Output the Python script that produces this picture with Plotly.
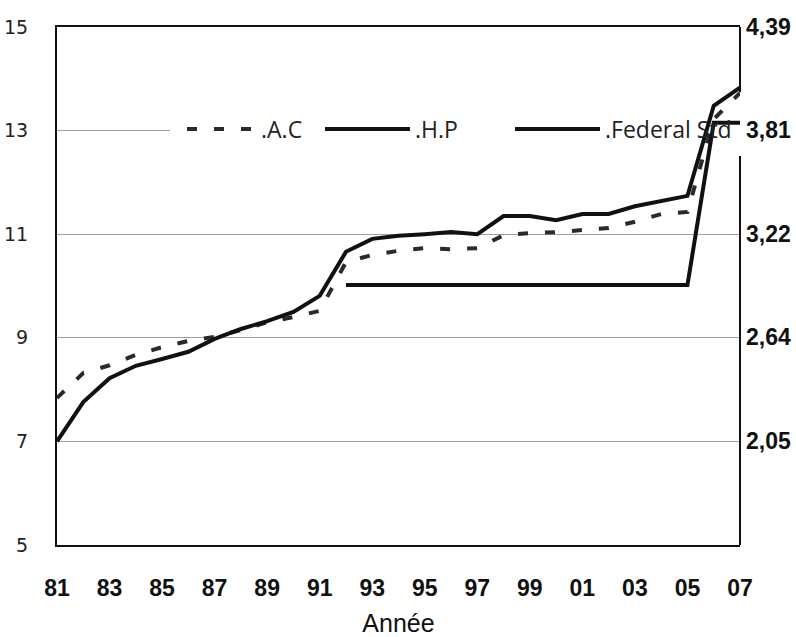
import plotly.graph_objects as go

# ---- data ----
years = [1981, 1982, 1983, 1984, 1985, 1986, 1987, 1988, 1989, 1990, 1991, 1992, 1993, 1994,
         1995, 1996, 1997, 1998, 1999, 2000, 2001, 2002, 2003, 2004, 2005, 2006, 2007]
hp = [7.00, 7.76, 8.22, 8.46, 8.59, 8.73, 8.98, 9.17, 9.32, 9.50, 9.81, 10.66, 10.91, 10.97,
      11.00, 11.04, 11.00, 11.35, 11.35, 11.27, 11.39, 11.39, 11.54, 11.64, 11.74, 13.48, 13.83]
ac = [7.84, 8.32, 8.47, 8.67, 8.82, 8.94, 9.02, 9.15, 9.30, 9.40, 9.52, 10.46, 10.60, 10.68,
      10.73, 10.71, 10.73, 10.98, 11.02, 11.04, 11.08, 11.12, 11.24, 11.39, 11.43, 13.22, 13.73]
fed_years = [1992, 1993, 1994, 1995, 1996, 1997, 1998, 1999, 2000, 2001, 2002, 2003, 2004,
             2005, 2006, 2007]
fed = [10.02, 10.02, 10.02, 10.02, 10.02, 10.02, 10.02, 10.02, 10.02, 10.02, 10.02, 10.02,
       10.02, 10.02, 13.15, 13.15]
names = [".A.C", ".H.P", ".Federal Std"]

x_tick_vals = [1981, 1983, 1985, 1987, 1989, 1991, 1993, 1995, 1997, 1999, 2001, 2003, 2005, 2007]
x_tick_text = ["81", "83", "85", "87", "89", "91", "93", "95", "97", "99", "01", "03", "05", "07"]
y_tick_vals = [5, 7, 9, 11, 13, 15]
y2_tick_vals = [2.05, 2.64, 3.22, 3.81, 4.39]
y2_ratio = 4.39 / 15  # right scale = left scale * ratio

# ---- layout geometry (pixels) ----
W, H = 796, 637
L, R, T, B = 57, 740, 27, 545


def px_x(p):
    return (p - L) / (R - L)


def px_y(p):
    return (B - p) / (B - T)


fig = go.Figure()
fig.add_trace(go.Scatter(x=years, y=ac, mode="lines", name=names[0],
                         line=dict(color="#2a2a2a", width=4, dash="10px,17px"),
                         showlegend=False))
fig.add_trace(go.Scatter(x=years, y=hp, mode="lines", name=names[1],
                         line=dict(color="#111111", width=4), showlegend=False))
fig.add_trace(go.Scatter(x=fed_years, y=fed, mode="lines", name=names[2],
                         line=dict(color="#111111", width=4), showlegend=False))
# empty trace so that the right-hand axis is drawn
fig.add_trace(go.Scatter(x=[None], y=[None], yaxis="y2", mode="lines",
                         showlegend=False, hoverinfo="skip"))

shapes = []
# white panel behind the legend (covers gridline, below the traces)
shapes.append(dict(type="rect", xref="x", yref="y", layer="between",
                   x0=1981 + (170 - L) / (R - L) * 26, x1=2008,
                   y0=5 + (B - 156) / (B - T) * 10, y1=5 + (B - 92) / (B - T) * 10,
                   fillcolor="white", line=dict(width=0)))
# right frame line with the gap behind the legend
shapes.append(dict(type="line", xref="paper", yref="paper", layer="above",
                   x0=1, x1=1, y0=0, y1=px_y(156), line=dict(color="#111", width=2)))
shapes.append(dict(type="line", xref="paper", yref="paper", layer="above",
                   x0=1, x1=1, y0=px_y(92), y1=1, line=dict(color="#111", width=2)))

# manual legend
leg_y = px_y(129)
samples = [(187, 256, "10px,17px", "#2a2a2a"), (325, 410, "solid", "#111"), (515, 600, "solid", "#111")]
text_x = [259, 413, 603]
annotations = []
for (a, b, d, c), tx, nm in zip(samples, text_x, names):
    shapes.append(dict(type="line", xref="paper", yref="paper", layer="above",
                       x0=px_x(a), x1=px_x(b), y0=leg_y, y1=leg_y,
                       line=dict(color=c, width=4, dash=d)))
    annotations.append(dict(xref="paper", yref="paper", x=px_x(tx), y=leg_y,
                            xanchor="left", yanchor="middle", showarrow=False, text=nm,
                            font=dict(family="Open Sans", size=23, color="#222")))

fig.update_layout(
    width=W, height=H,
    margin=dict(l=L, r=W - R, t=T, b=H - B, pad=0, autoexpand=False),
    paper_bgcolor="white", plot_bgcolor="white",
    separators=", ",
    showlegend=False,
    shapes=shapes,
    annotations=annotations,
    xaxis=dict(range=[1981, 2007], tickvals=x_tick_vals, ticktext=x_tick_text,
               showgrid=False, zeroline=False, showline=True, mirror=True, automargin=False,
               linecolor="#111", linewidth=2, ticks="", ticklabelstandoff=21,
               tickfont=dict(family="Liberation Sans", size=23, color="#111", weight="bold"),
               title=dict(text="Année", standoff=18,
                          font=dict(family="Liberation Sans", size=25, color="#111"))),
    yaxis=dict(range=[5, 15], tickvals=y_tick_vals, showgrid=True, gridcolor="#a0a0a0",
               gridwidth=1, zeroline=False, showline=True, linecolor="#111", linewidth=2,
               ticks="", ticklabelstandoff=23, automargin=False,
               tickfont=dict(family="DejaVu Sans", size=19, color="#222")),
    yaxis2=dict(range=[5 * y2_ratio, 15 * y2_ratio], tickvals=y2_tick_vals, tickformat=".2f",
                overlaying="y", side="right", anchor="x", showgrid=False, zeroline=False,
                showline=False, ticks="", ticklabelstandoff=5, automargin=False,
                tickfont=dict(family="Liberation Sans", size=23, color="#111", weight="bold")),
)

fig.write_html("out.html", config={"displayModeBar": False},
               post_script="document.body.style.margin='0px';")
